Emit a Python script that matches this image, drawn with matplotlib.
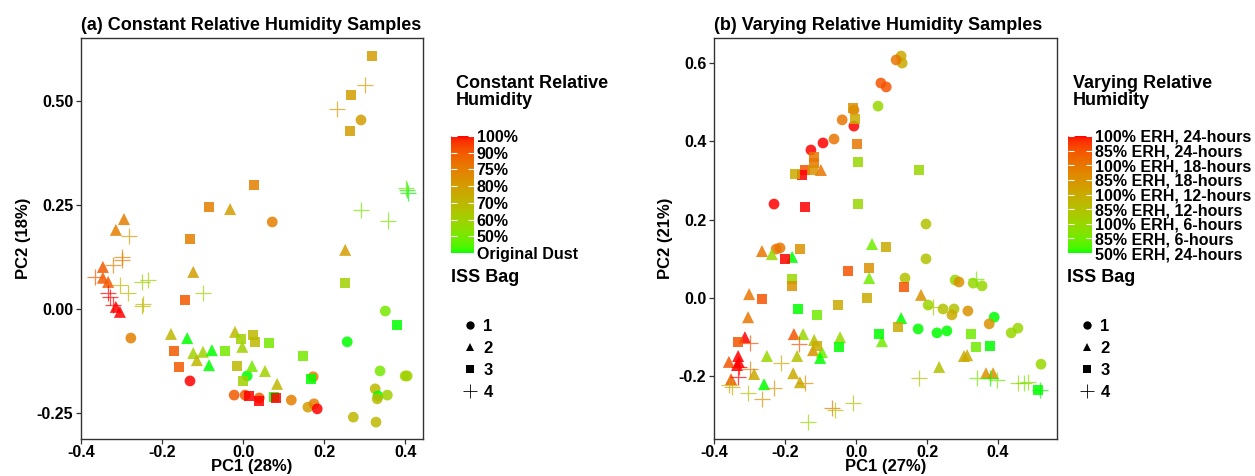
"""PCA score plots for the constant / varying relative humidity dust samples."""
import matplotlib.pyplot as plt
import numpy as np
from matplotlib.lines import Line2D

plt.rcParams.update({
    "font.family": ["Liberation Sans", "DejaVu Sans"],
    "font.weight": "bold",
    "font.size": 10,
})

# ---------------------------------------------------------------------------
# Data: (a) constant relative humidity samples
# level index 0..7 follows CRH_LABELS from bottom to top
# ---------------------------------------------------------------------------
CRH_LABELS = ["Original Dust", "50%", "60%", "70%", "80%", "75%", "90%", "100%"]

crh_pc1 = [
    # bag 1
    0.291, 0.072, -0.277, 0.351, 0.257, -0.131, 0.010, 0.173, -0.022, 0.005,
    0.040, 0.119, 0.160, 0.175, 0.183, 0.338, 0.400, 0.405, 0.326, 0.333,
    0.331, 0.356, 0.272, 0.328,
    # bag 2
    -0.032, -0.294, -0.314, 0.252, -0.346, -0.346, -0.333, -0.123, -0.314,
    -0.304, -0.178, -0.138, -0.123, -0.099, -0.114, -0.077, -0.084, -0.020,
    -0.002, 0.022, 0.054, 0.084,
    # bag 3
    0.319, 0.267, 0.264, 0.027, -0.084, -0.131, 0.252, 0.380, -0.143, -0.170,
    -0.158, -0.044, 0.025, 0.030, -0.005, 0.064, -0.015, 0.000, 0.148, 0.168,
    0.015, 0.040, 0.077, 0.081,
    # bag 4
    0.301, 0.232, 0.405, 0.407, 0.402, 0.291, 0.358, -0.281, -0.299, -0.299,
    -0.321, -0.365, -0.304, -0.249, -0.235, -0.284, -0.333, -0.328, -0.247,
    -0.249, -0.099, -0.321,
]
crh_pc2 = [
    0.454, 0.209, -0.070, -0.005, -0.079, -0.173, -0.161, -0.163, -0.207,
    -0.207, -0.214, -0.219, -0.236, -0.228, -0.240, -0.149, -0.161, -0.161,
    -0.192, -0.209, -0.216, -0.207, -0.260, -0.272,
    0.240, 0.216, 0.190, 0.142, 0.101, 0.075, 0.065, 0.089, 0.005, -0.007,
    -0.060, -0.070, -0.106, -0.103, -0.123, -0.099, -0.135, -0.055, -0.091,
    -0.137, -0.149, -0.180,
    0.608, 0.514, 0.428, 0.298, 0.245, 0.168, 0.063, -0.038, 0.022, -0.101,
    -0.139, -0.101, -0.063, -0.079, -0.072, -0.082, -0.137, -0.173, -0.113,
    -0.168, -0.209, -0.221, -0.212, -0.214,
    0.538, 0.481, 0.286, 0.279, 0.291, 0.238, 0.212, 0.175, 0.125, 0.118,
    0.106, 0.077, 0.058, 0.065, 0.070, 0.038, 0.038, 0.029, 0.012, 0.007,
    0.038, 0.010,
]
crh_bag = [1] * 24 + [2] * 22 + [3] * 24 + [4] * 22
crh_level = [
    4, 5, 5, 1, 0, 7, 0, 5, 6, 6, 6, 5, 4, 5, 7, 1, 2, 2, 3, 0, 3, 2, 3, 3,
    4, 5, 5, 4, 6, 6, 6, 4, 7, 7, 3, 0, 2, 2, 3, 0, 0, 3, 2, 1, 2, 3,
    4, 4, 4, 5, 5, 5, 2, 0, 6, 6, 6, 1, 3, 3, 2, 1, 3, 2, 1, 0, 7, 7, 0, 7,
    4, 4, 0, 0, 1, 1, 1, 4, 5, 5, 5, 6, 3, 2, 2, 3, 7, 7, 3, 3, 2, 7,
]

# ---------------------------------------------------------------------------
# Data: (b) varying relative humidity samples
# level index 0..8 follows VRH_LABELS from bottom to top
# ---------------------------------------------------------------------------
VRH_LABELS = [
    "50% ERH, 24-hours", "85% ERH, 6-hours", "100% ERH, 6-hours",
    "85% ERH, 12-hours", "100% ERH, 12-hours", "85% ERH, 18-hours",
    "100% ERH, 18-hours", "85% ERH, 24-hours", "100% ERH, 24-hours",
]

vrh_pc1 = [
    # bag 1
    0.127, 0.130, 0.113, 0.070, 0.085, 0.062, -0.006, -0.039, -0.006, -0.062,
    -0.093, -0.127, -0.231, 0.197, -0.225, -0.214, 0.197, 0.138, 0.279, 0.290,
    0.330, 0.355, 0.203, 0.245, 0.276, 0.270, 0.315, 0.389, 0.375, 0.175,
    0.228, 0.256, 0.437, 0.456, 0.521,
    # bag 2
    -0.099, 0.045, -0.265, -0.237, -0.180, 0.037, -0.301, 0.183, -0.304, 0.127,
    0.073, -0.045, -0.313, -0.175, -0.149, -0.118, -0.121, -0.096, -0.101,
    -0.251, -0.166, 0.304, 0.313, 0.234, -0.287, -0.177, -0.158, -0.332,
    -0.330, -0.335, -0.358, -0.352, -0.259, 0.366, 0.386,
    # bag 3
    -0.008, -0.003, 0.003, -0.118, -0.118, 0.006, 0.177, -0.144, -0.121,
    -0.152, -0.172, -0.144, 0.006, 0.085, -0.158, -0.200, -0.023, 0.037,
    -0.180, -0.180, 0.135, -0.265, 0.031, -0.051, -0.163, -0.110, 0.118,
    0.324, 0.065, -0.048, 0.338, 0.377, -0.332, -0.110, 0.513,
    # bag 4
    0.338, 0.217, -0.299, -0.161, -0.211, -0.144, -0.332, -0.330, -0.299,
    0.177, 0.341, 0.397, 0.377, 0.456, 0.473, 0.485, 0.518, -0.358, -0.349,
    -0.304, -0.265, -0.231, -0.068, -0.059, -0.008, -0.135,
]
vrh_pc2 = [
    0.618, 0.600, 0.608, 0.549, 0.539, 0.490, 0.480, 0.455, 0.439, 0.406,
    0.396, 0.378, 0.240, 0.189, 0.125, 0.128, 0.100, 0.051, 0.046, 0.041,
    0.038, 0.031, -0.018, -0.028, -0.028, -0.043, -0.033, -0.049, -0.066,
    -0.079, -0.089, -0.084, -0.089, -0.077, -0.169,
    0.327, 0.138, 0.120, 0.112, 0.105, 0.051, 0.010, 0.008, -0.049, -0.051,
    -0.110, -0.100, -0.100, -0.092, -0.092, -0.107, -0.133, -0.138, -0.153,
    -0.148, -0.148, -0.148, -0.146, -0.176, -0.194, -0.192, -0.215, -0.148,
    -0.163, -0.171, -0.163, -0.207, -0.220, -0.192, -0.192,
    0.485, 0.457, 0.393, 0.360, 0.345, 0.347, 0.327, 0.327, 0.327, 0.314,
    0.317, 0.232, 0.240, 0.130, 0.125, 0.100, 0.069, 0.077, 0.049, 0.031,
    0.028, -0.003, 0.000, -0.018, -0.028, -0.043, -0.074, -0.092, -0.092,
    -0.125, -0.125, -0.123, -0.112, -0.123, -0.235,
    0.049, -0.023, -0.115, -0.118, -0.166, -0.217, -0.202, -0.176, -0.181,
    -0.204, -0.204, -0.209, -0.204, -0.217, -0.217, -0.215, -0.235, -0.222,
    -0.227, -0.243, -0.258, -0.230, -0.281, -0.286, -0.268, -0.317,
]
vrh_bag = [1] * 35 + [2] * 35 + [3] * 35 + [4] * 26
vrh_level = [
    4, 4, 6, 7, 7, 2, 6, 6, 8, 6, 8, 8, 8, 3, 6, 6, 3, 3, 2, 5, 2, 2, 2, 3,
    3, 4, 5, 0, 5, 0, 0, 0, 2, 2, 2,
    6, 1, 6, 2, 0, 1, 6, 5, 6, 0, 1, 2, 8, 7, 2, 3, 5, 1, 0, 2, 3, 4, 4, 3,
    4, 4, 4, 8, 8, 8, 7, 7, 0, 5, 5,
    5, 4, 6, 6, 6, 2, 2, 7, 5, 8, 4, 8, 2, 4, 5, 8, 7, 5, 2, 5, 7, 7, 4, 4,
    0, 1, 4, 1, 0, 0, 1, 0, 7, 4, 0,
    1, 3, 7, 7, 4, 5, 8, 8, 6, 3, 1, 1, 0, 2, 1, 2, 0, 4, 4, 3, 5, 5, 6, 3,
    3, 2,
]

# ---------------------------------------------------------------------------
# Style
# ---------------------------------------------------------------------------
BAG_MARKERS = {1: ("o", 60), 2: ("^", 75), 3: ("s", 55), 4: ("+", 140)}
POINT_ALPHA = 0.85
FRAME_COLOR = "#333333"
TICK_SIZE = 11.5
LABEL_SIZE = 12
TITLE_SIZE = 13
LEGEND_TITLE_SIZE = 13
LEGEND_TEXT_SIZE = 11.5


def _srgb_to_lab(rgb):
    c = np.asarray(rgb, float)
    lin = np.where(c <= 0.04045, c / 12.92, ((c + 0.055) / 1.055) ** 2.4)
    m = np.array([[0.4124, 0.3576, 0.1805],
                  [0.2126, 0.7152, 0.0722],
                  [0.0193, 0.1192, 0.9505]])
    xyz = m @ lin / np.array([0.95047, 1.0, 1.08883])
    f = np.where(xyz > 0.008856, np.cbrt(xyz), 7.787 * xyz + 16 / 116)
    return np.array([116 * f[1] - 16, 500 * (f[0] - f[1]), 200 * (f[1] - f[2])])


def _lab_to_srgb(lab):
    L, a, b = lab
    fy = (L + 16) / 116
    f = np.array([fy + a / 500, fy, fy - b / 200])
    xyz = np.where(f ** 3 > 0.008856, f ** 3, (f - 16 / 116) / 7.787)
    xyz = xyz * np.array([0.95047, 1.0, 1.08883])
    m = np.array([[3.2406, -1.5372, -0.4986],
                  [-0.9689, 1.8758, 0.0415],
                  [0.0557, -0.2040, 1.0570]])
    lin = np.clip(m @ xyz, 0, 1)
    c = np.where(lin <= 0.0031308, 12.92 * lin, 1.055 * lin ** (1 / 2.4) - 0.055)
    return np.clip(c, 0, 1)


LAB_LOW = _srgb_to_lab([0.0, 1.0, 0.0])
LAB_HIGH = _srgb_to_lab([1.0, 0.0, 0.0])


def grad_color(t):
    """green -> red gradient interpolated in Lab space (ggplot style)."""
    return _lab_to_srgb(LAB_LOW + (LAB_HIGH - LAB_LOW) * t)


def draw_panel(ax, pc1, pc2, bag, level, n_levels):
    pc1, pc2 = np.asarray(pc1), np.asarray(pc2)
    bag, level = np.asarray(bag), np.asarray(level)
    for b, (marker, size) in BAG_MARKERS.items():
        sel = bag == b
        cols = [grad_color(lv / (n_levels - 1)) for lv in level[sel]]
        if marker == "+":
            ax.scatter(pc1[sel], pc2[sel], s=size, marker=marker, c=cols,
                       linewidths=0.9, alpha=0.7, zorder=2)
        else:
            ax.scatter(pc1[sel], pc2[sel], s=size, marker=marker, c=cols,
                       edgecolors="none", alpha=POINT_ALPHA, zorder=2)
    for sp in ax.spines.values():
        sp.set_color(FRAME_COLOR)
        sp.set_linewidth(1.0)
    ax.tick_params(length=3.5, width=0.9, color=FRAME_COLOR,
                   labelsize=TICK_SIZE, labelcolor="black", pad=2)
    ax.tick_params(axis="x", pad=1)


def draw_colorbar(fig, rect, labels):
    cax = fig.add_axes(rect)
    n = len(labels)
    grad = np.array([grad_color(t) for t in np.linspace(0, 1, 256)])[:, None, :]
    cax.imshow(grad, origin="lower", aspect="auto",
               extent=[0, 1, 0, n - 1])
    cax.set_xlim(0, 1)
    cax.set_ylim(0, n - 1)
    cax.set_xticks([])
    cax.set_yticks(range(n))
    cax.set_yticklabels(labels, fontsize=LEGEND_TEXT_SIZE, fontweight="bold")
    cax.yaxis.set_ticks_position("both")
    cax.tick_params(axis="y", direction="in", color="white", length=4,
                    width=0.8, labelleft=False, labelright=True, pad=2)
    for sp in cax.spines.values():
        sp.set_visible(False)
    return cax


def shape_legend(fig, x, y):
    handles = []
    for b, (marker, _) in BAG_MARKERS.items():
        handles.append(Line2D([], [], linestyle="none", marker=marker,
                              color="black", markersize=6 if marker != "+" else 10,
                              markeredgewidth=0.6 if marker == "+" else 0,
                              label=str(b)))
    fig.legend(handles=handles, loc="upper left", bbox_to_anchor=(x, y),
               frameon=False, handlelength=1.0, handletextpad=0.3,
               labelspacing=0.42, prop={"weight": "bold", "size": 12},
               borderaxespad=0)


W, H = 1255, 476
fig = plt.figure(figsize=(W / 100, H / 100), dpi=100)

# ---- panel (a) ------------------------------------------------------------
ax_a = fig.add_axes([81 / W, 1 - 439 / H, 342 / W, 401 / H])
draw_panel(ax_a, crh_pc1, crh_pc2, crh_bag, crh_level, len(CRH_LABELS))
ax_a.set_xlim(-0.4, 0.444)
ax_a.set_ylim(-0.3125, 0.651)
ax_a.set_xticks([-0.4, -0.2, 0.0, 0.2, 0.4])
ax_a.set_xticklabels(["-0.4", "-0.2", "0.0", "0.2", "0.4"])
ax_a.set_yticks([-0.25, 0.0, 0.25, 0.5])
ax_a.set_yticklabels(["-0.25", "0.00", "0.25", "0.50"])
ax_a.set_xlabel("PC1 (28%)", fontsize=LABEL_SIZE, fontweight="bold",
                labelpad=-1)
ax_a.set_ylabel("PC2 (18%)", fontsize=LABEL_SIZE, fontweight="bold",
                labelpad=4)
ax_a.set_title("(a) Constant Relative Humidity Samples", loc="left",
               fontsize=TITLE_SIZE, fontweight="bold", pad=6)

# ---- panel (b) ------------------------------------------------------------
ax_b = fig.add_axes([714 / W, 1 - 439 / H, 343 / W, 401 / H])
draw_panel(ax_b, vrh_pc1, vrh_pc2, vrh_bag, vrh_level, len(VRH_LABELS))
ax_b.set_xlim(-0.4, 0.566)
ax_b.set_ylim(-0.360, 0.664)
ax_b.set_xticks([-0.4, -0.2, 0.0, 0.2, 0.4])
ax_b.set_xticklabels(["-0.4", "-0.2", "0.0", "0.2", "0.4"])
ax_b.set_yticks([-0.2, 0.0, 0.2, 0.4, 0.6])
ax_b.set_yticklabels(["-0.2", "0.0", "0.2", "0.4", "0.6"])
ax_b.set_xlabel("PC1 (27%)", fontsize=LABEL_SIZE, fontweight="bold",
                labelpad=-1)
ax_b.set_ylabel("PC2 (21%)", fontsize=LABEL_SIZE, fontweight="bold",
                labelpad=4)
ax_b.set_title("(b) Varying Relative Humidity Samples", loc="left",
               fontsize=TITLE_SIZE, fontweight="bold", pad=6)

# ---- legends --------------------------------------------------------------
fig.text(456 / W, 1 - 75 / H, "Constant Relative\nHumidity",
         fontsize=LEGEND_TITLE_SIZE, fontweight="bold", va="top", ha="left",
         linespacing=1.0)
draw_colorbar(fig, [451 / W, 1 - 253 / H, 23 / W, 117 / H], CRH_LABELS)
fig.text(451 / W, 1 - 278 / H, "ISS Bag", fontsize=LEGEND_TITLE_SIZE,
         fontweight="bold", va="center", ha="left")
shape_legend(fig, 455 / W, 1 - 312 / H)

fig.text(1073 / W, 1 - 75 / H, "Varying Relative\nHumidity",
         fontsize=LEGEND_TITLE_SIZE, fontweight="bold", va="top", ha="left",
         linespacing=1.0)
draw_colorbar(fig, [1068 / W, 1 - 253 / H, 24 / W, 117 / H], VRH_LABELS)
fig.text(1067 / W, 1 - 278 / H, "ISS Bag", fontsize=LEGEND_TITLE_SIZE,
         fontweight="bold", va="center", ha="left")
shape_legend(fig, 1072 / W, 1 - 312 / H)

fig.savefig("out.png", dpi=100)
